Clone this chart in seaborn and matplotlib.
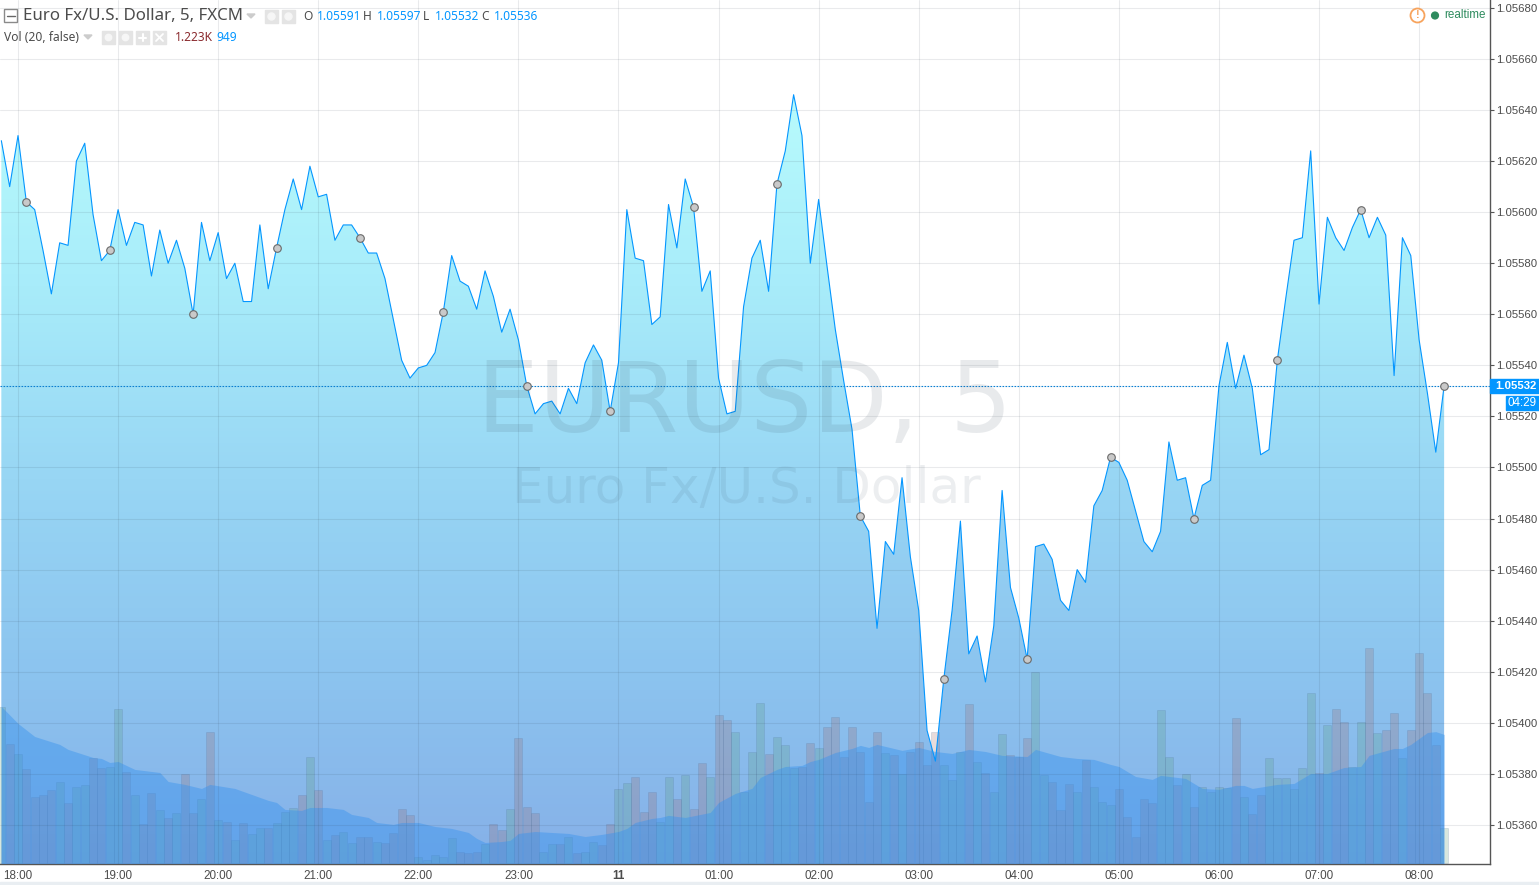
"""EUR/USD 5 minute area chart with volume and volume MA, TradingView look"""
import numpy as np
import pandas as pd
import matplotlib
matplotlib.use('Agg')
import matplotlib.pyplot as plt
import matplotlib.colors as mcolors
from matplotlib.patches import Rectangle, Circle, Polygon
import seaborn as sns

closes = [
    1.05628, 1.05610, 1.05630, 1.05604, 1.05601, 1.05585, 1.05568, 1.05588, 1.05587, 1.05620,
    1.05627, 1.05599, 1.05581, 1.05585, 1.05601, 1.05587, 1.05596, 1.05595, 1.05575, 1.05593,
    1.05580, 1.05589, 1.05578, 1.05560, 1.05596, 1.05581, 1.05592, 1.05574, 1.05580, 1.05565,
    1.05565, 1.05595, 1.05570, 1.05586, 1.05601, 1.05613, 1.05601, 1.05618, 1.05606, 1.05607,
    1.05589, 1.05595, 1.05595, 1.05590, 1.05584, 1.05584, 1.05574, 1.05558, 1.05542, 1.05535,
    1.05539, 1.05540, 1.05545, 1.05561, 1.05583, 1.05573, 1.05571, 1.05562, 1.05577, 1.05567,
    1.05553, 1.05562, 1.05550, 1.05532, 1.05521, 1.05525, 1.05526, 1.05521, 1.05531, 1.05525,
    1.05541, 1.05548, 1.05542, 1.05522, 1.05541, 1.05601, 1.05582, 1.05581, 1.05556, 1.05559,
    1.05603, 1.05586, 1.05613, 1.05602, 1.05569, 1.05577, 1.05535, 1.05521, 1.05522, 1.05563,
    1.05582, 1.05589, 1.05569, 1.05611, 1.05624, 1.05646, 1.05630, 1.05580, 1.05605, 1.05579,
    1.05554, 1.05534, 1.05515, 1.05481, 1.05475, 1.05437, 1.05471, 1.05466, 1.05496, 1.05465,
    1.05444, 1.05397, 1.05385, 1.05417, 1.05444, 1.05479, 1.05427, 1.05434, 1.05416, 1.05438,
    1.05491, 1.05453, 1.05441, 1.05425, 1.05469, 1.05470, 1.05464, 1.05448, 1.05444, 1.05460,
    1.05455, 1.05485, 1.05491, 1.05504, 1.05502, 1.05495, 1.05483, 1.05471, 1.05467, 1.05475,
    1.05510, 1.05495, 1.05496, 1.05480, 1.05493, 1.05495, 1.05532, 1.05549, 1.05531, 1.05544,
    1.05531, 1.05505, 1.05507, 1.05542, 1.05566, 1.05589, 1.05590, 1.05624, 1.05564, 1.05598,
    1.05590, 1.05585, 1.05594, 1.05601, 1.05590, 1.05598, 1.05591, 1.05536, 1.05590, 1.05583,
    1.05550, 1.05529, 1.05506, 1.05532,
]

volumes = [
    1123, 857, 785, 677, 475, 490, 526, 583, 432, 547,
    562, 756, 684, 698, 1109, 662, 490, 281, 504, 382,
    324, 360, 641, 360, 461, 943, 310, 295, 166, 288,
    209, 252, 252, 288, 367, 396, 490, 763, 526, 166,
    202, 223, 144, 194, 187, 151, 144, 216, 389, 346,
    50, 22, 58, 43, 180, 79, 72, 79, 137, 281,
    238, 389, 900, 410, 360, 86, 137, 137, 187, 72,
    86, 151, 130, 281, 533, 576, 626, 367, 518, 295,
    626, 461, 634, 389, 720, 626, 1066, 1030, 943, 511,
    799, 1152, 785, 914, 850, 684, 691, 864, 828, 979,
    1051, 770, 986, 799, 446, 950, 792, 778, 641, 799,
    878, 706, 950, 706, 598, 799, 1145, 734, 648, 518,
    929, 778, 770, 900, 1382, 634, 590, 382, 569, 511,
    742, 547, 446, 418, 533, 338, 194, 461, 432, 1102,
    770, 562, 641, 410, 547, 511, 554, 540, 1044, 475,
    353, 490, 756, 612, 612, 533, 684, 1224, 648, 994,
    1109, 1015, 691, 1022, 1548, 936, 958, 1080, 756, 958,
    1512, 1224, 850, 252,
]

# volume MA at these bars only
ma_bars = [
    0, 2, 4, 7, 8, 11, 12, 13, 14, 16, 19, 20, 22, 24, 25, 28, 30, 32, 33, 34,
    36, 37, 39, 41, 42, 44, 45, 47, 48, 50, 52, 54, 56, 57, 58, 60, 61, 62, 64, 66,
    68, 70, 72, 74, 75, 76, 78, 79, 80, 82, 85, 86, 88, 90, 91, 93, 94, 96, 97, 98,
    100, 102, 103, 104, 105, 108, 110, 112, 114, 116, 118, 120, 123, 124, 127, 129, 131, 133, 134, 136,
    138, 139, 142, 144, 146, 148, 149, 150, 153, 155, 157, 159, 161, 163, 164, 167, 168, 169, 171, 172,
    173,
]
ma_values = [
    1130, 1008, 914, 857, 821, 763, 756, 727, 734, 677, 655, 590, 569, 540, 569, 540, 497, 454, 439, 389,
    382, 403, 403, 389, 353, 331, 295, 281, 295, 295, 266, 252, 223, 180, 151, 158, 166, 216, 230, 223,
    216, 194, 209, 230, 252, 295, 324, 331, 346, 331, 367, 439, 504, 540, 619, 677, 698, 706, 734, 749,
    799, 828, 850, 835, 857, 814, 835, 806, 792, 821, 806, 778, 770, 821, 770, 756, 749, 713, 698, 626,
    605, 634, 612, 540, 533, 562, 562, 540, 569, 576, 648, 648, 691, 698, 778, 828, 828, 857, 943, 949,
    929,
]

price_ticks = [1.05360, 1.05380, 1.05400, 1.05420, 1.05440, 1.05460, 1.05480, 1.05500, 1.05520, 1.05540,
               1.05560, 1.05580, 1.05600, 1.05620, 1.05640, 1.05660, 1.05680]
time_labels = ['18:00', '19:00', '20:00', '21:00', '22:00', '23:00', '11', '01:00',
               '02:00', '03:00', '04:00', '05:00', '06:00', '07:00', '08:00']
last_price = 1.05532

sns.set_style('white')
plt.rcParams['font.family'] = ['Liberation Sans', 'DejaVu Sans']

df = pd.DataFrame({'bar': np.arange(len(closes)), 'close': closes, 'volume': volumes})
df['up'] = df['close'].diff().fillna(1) >= 0
ma = pd.DataFrame({'bar': ma_bars, 'value': ma_values})

W, H = 1539, 885
fig = plt.figure(figsize=(W / 100, H / 100), dpi=100, facecolor='white')
pos = [0, (H - 864) / H, 1490 / W, 864 / H]

ax = fig.add_axes(pos, zorder=1)
ax_vol = fig.add_axes(pos, zorder=2, sharex=ax)
ax_line = fig.add_axes(pos, zorder=3, sharex=ax, sharey=ax)
overlay = fig.add_axes([0, 0, 1, 1], zorder=4)

x_lim = (-0.16, 178.5)
y_lim = (1.053447, 1.056831)

# gradient under the price line
grad_cmap = mcolors.LinearSegmentedColormap.from_list(
    'area', ['#b8fbfc', '#a8ecfa', '#98d6f4', '#8cc4ef', '#86b0e8'])
poly = ax.fill_between(df['bar'], df['close'], y_lim[0], color='none')
grad = np.linspace(0, 1, 256).reshape(-1, 1)
im = ax.imshow(grad, cmap=grad_cmap, aspect='auto', zorder=1,
               extent=[x_lim[0], x_lim[1], y_lim[0], 1.05646])
im.set_clip_path(poly.get_paths()[0], transform=ax.transData)

# volume bars and volume MA
sns.barplot(data=df, x='bar', y='volume', hue='up', native_scale=True, dodge=False,
            palette={True: '#4fa878', False: '#a8605f'}, alpha=0.24, width=0.96,
            edgecolor='#50709a', linewidth=0.5, legend=False, ax=ax_vol)
ax_vol.fill_between(ma['bar'], ma['value'], 0, color='#3a94ee', alpha=0.46, linewidth=0, zorder=5)
ax_vol.patch.set_alpha(0)
ax_vol.set_ylim(-4, 6217)
ax_vol.axis('off')

# price line with session markers
ax_line.patch.set_alpha(0)
sns.lineplot(data=df, x='bar', y='close', color='#0496ff', linewidth=0.8, estimator=None, ax=ax_line, zorder=6)
sns.scatterplot(data=df.iloc[3::10], x='bar', y='close', s=30, color='#c9c9c9', edgecolor='#6a6a6a',
                linewidth=0.8, ax=ax_line, zorder=7)
for p in price_ticks:
    ax_line.axhline(p, color='#2a3a4a', alpha=0.1, linewidth=0.75, zorder=2)
tick_bars = [2 + 12 * i for i in range(len(time_labels))]
for b in tick_bars:
    ax_line.axvline(b, color='#2a3a4a', alpha=0.1, linewidth=0.75, zorder=2)
ax_line.axhline(last_price, color='#0d7fd0', linewidth=0.8, linestyle=(0, (1.5, 1.2)), zorder=5)
ax_line.axis('off')

ax.set_xlim(*x_lim)
ax.set_ylim(*y_lim)
ax.set_xticks(tick_bars)
ax.set_xticklabels(time_labels, fontsize=8.4, color='#4c4c4c')
ax.get_xticklabels()[6].set_fontweight('bold')
ax.yaxis.tick_right()
ax.set_yticks(price_ticks)
ax.set_yticklabels([f'{p:.5f}' for p in price_ticks], fontsize=8.2, color='#4c4c4c')
ax.tick_params(axis='x', length=3, width=0.8, color='#555555', pad=1.5)
ax.tick_params(axis='y', length=3, width=0.8, color='#555555', pad=1.5)
ax.set_xlabel('')
ax.set_ylabel('')
for name, spine in ax.spines.items():
    spine.set_visible(name in ('right', 'bottom'))
    spine.set_color('#555555')
    spine.set_linewidth(1.0)

# pixel coordinates for the header, watermark and price tags
overlay.set_xlim(0, W)
overlay.set_ylim(H, 0)
overlay.axis('off')
overlay.patch.set_alpha(0)

overlay.text(745, 432, 'EURUSD, 5', fontsize=70.5, color='#33475a', alpha=0.11, ha='center', va='baseline',
             family='DejaVu Sans')
overlay.text(746, 503, 'Euro Fx/U.S. Dollar', fontsize=36, color='#33475a', alpha=0.09, ha='center', va='baseline',
             family='DejaVu Sans')

overlay.add_patch(Rectangle((4, 9), 13, 13, facecolor='white', edgecolor='#8a8a8a', linewidth=1))
overlay.plot([6.5, 14.5], [15.5, 15.5], color='#666666', linewidth=1)
overlay.text(23, 16.5, 'Euro Fx/U.S. Dollar, 5, FXCM', fontsize=12.15, color='#4c4c4c', va='center',
             family='Noto Sans', fontweight='medium')
overlay.add_patch(Polygon([(247, 14), (255, 14), (251, 18)], color='#cccccc'))
for bx in (265, 282):
    overlay.add_patch(Rectangle((bx, 10), 13, 13, color='#e4e4e4'))
    overlay.add_patch(Circle((bx + 6.5, 16.5), 3.5, color='#f6f6f6'))

legend_parts = [(303, 'O', '#4c4c4c'), (317, '1.05591', '#0496ff'), (363, 'H', '#4c4c4c'), (377, '1.05597', '#0496ff'),
                (423, 'L', '#4c4c4c'), (435, '1.05532', '#0496ff'), (481, 'C', '#4c4c4c'), (494, '1.05536', '#0496ff')]
for lx, txt, col in legend_parts:
    overlay.text(lx, 16.5, txt, fontsize=8.6, color=col, va='center', family='Noto Sans')

overlay.text(4, 37.5, 'Vol (20, false)', fontsize=8.7, color='#4c4c4c', va='center', family='Noto Sans')
overlay.add_patch(Polygon([(84, 35), (92, 35), (88, 39)], color='#cccccc'))
for bx in (102, 119, 136, 153):
    overlay.add_patch(Rectangle((bx, 31), 13, 13, color='#e4e4e4'))
for bx in (102, 119):
    overlay.add_patch(Circle((bx + 6.5, 37.5), 3.2, color='#f6f6f6'))
overlay.plot([139, 146], [37.5, 37.5], color='white', linewidth=1.5)
overlay.plot([142.5, 142.5], [34, 41], color='white', linewidth=1.5)
overlay.plot([156, 163], [34, 41], color='white', linewidth=1.3)
overlay.plot([156, 163], [41, 34], color='white', linewidth=1.3)
overlay.text(175, 37.5, '1.223K', fontsize=8.6, color='#8a2a2e', va='center', family='Noto Sans')
overlay.text(216, 37.5, '949', fontsize=8.6, color='#0496ff', va='center', family='Noto Sans')

overlay.add_patch(Circle((1417.5, 15.5), 7, facecolor='white', edgecolor='#f7a35c', linewidth=1.3))
overlay.text(1417.5, 15.5, '!', fontsize=8, color='#f7a35c', ha='center', va='center', fontweight='bold')
overlay.add_patch(Circle((1435, 15.5), 3.4, color='#2e8b5e'))
overlay.text(1444, 15.5, 'realtime', fontsize=8.4, color='#2e8b5e', va='center')

overlay.add_patch(Rectangle((1490, 379), 49, 14, color='#0496ff', zorder=5))
overlay.text(1516, 386, '1.05532', fontsize=8.2, color='white', ha='center', va='center', fontweight='bold', zorder=6)
overlay.add_patch(Rectangle((1506, 396), 33, 14, color='#0496ff', zorder=5))
overlay.text(1522.5, 403, '04:29', fontsize=8.4, color='white', ha='center', va='center', zorder=6)

overlay.add_patch(Rectangle((0, 882), W, 3, color='#e9eef2'))

fig.savefig('out.png', dpi=100, facecolor='white')
